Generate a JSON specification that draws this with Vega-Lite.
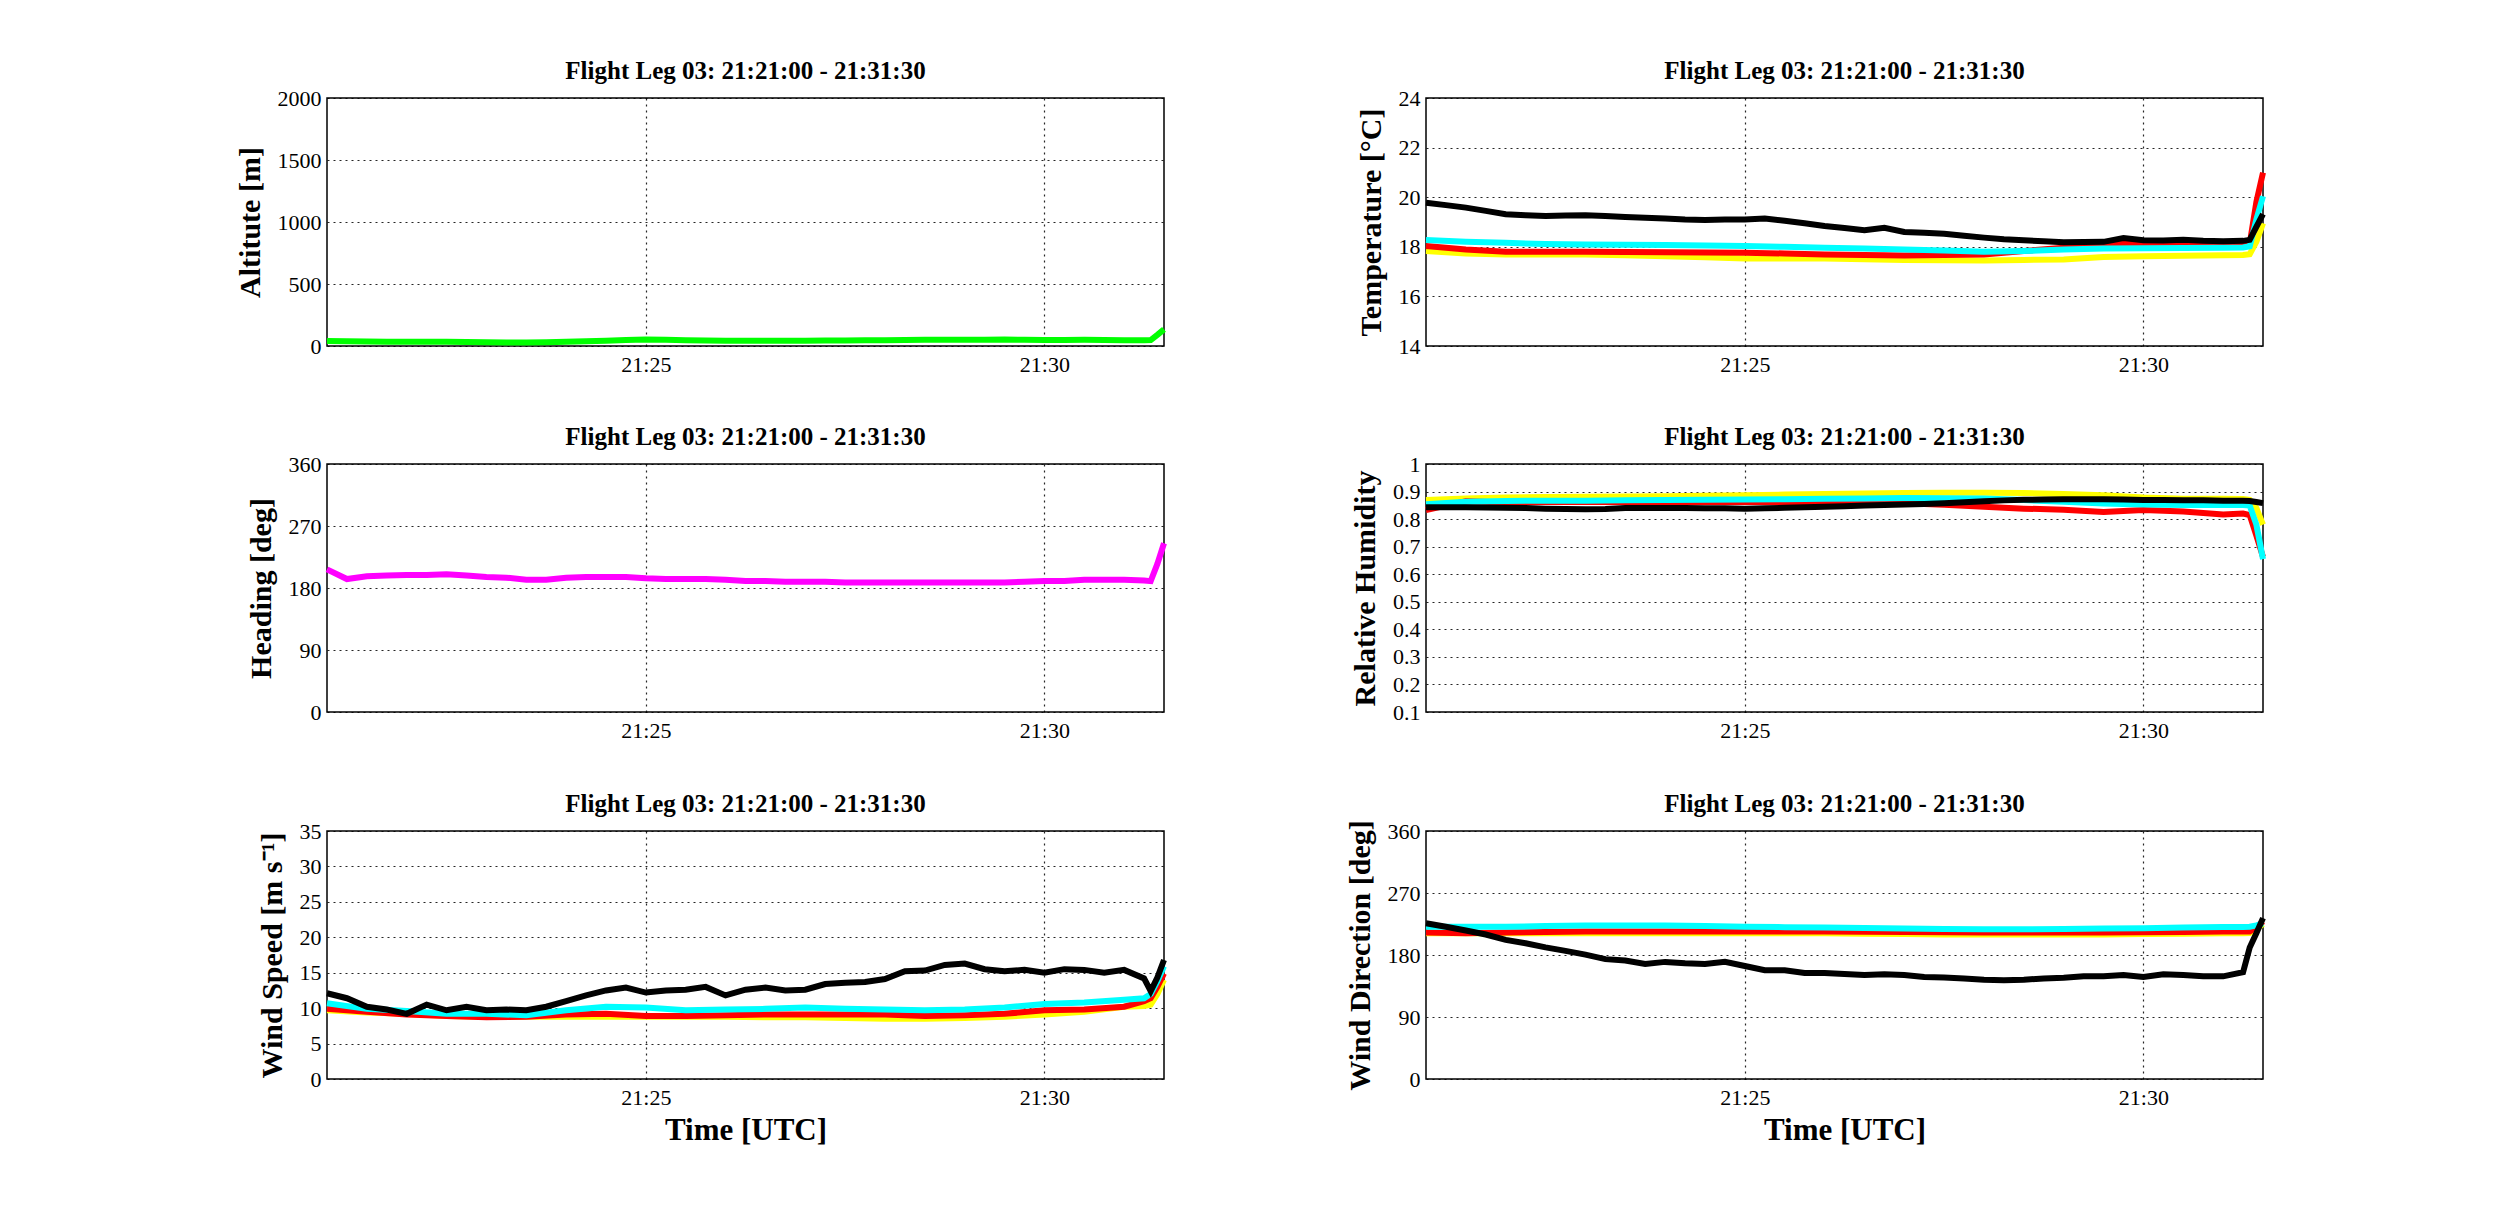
{
  "$schema": "https://vega.github.io/schema/vega-lite/v6.json",
  "background": "white",
  "padding": {"left": 234, "top": 58, "right": 10, "bottom": 10},
  "columns": 2,
  "spacing": {"row": 48, "column": 167},
  "align": {"row": "each", "column": "all"},
  "datasets": {
    "alt": [
      {"t": "21:21:00", "v": 40}, {"t": "21:21:15", "v": 38}, {"t": "21:21:30", "v": 36}, {"t": "21:21:45", "v": 35},
      {"t": "21:22:00", "v": 35}, {"t": "21:22:15", "v": 34}, {"t": "21:22:30", "v": 35}, {"t": "21:22:45", "v": 33},
      {"t": "21:23:00", "v": 30}, {"t": "21:23:15", "v": 28}, {"t": "21:23:30", "v": 28}, {"t": "21:23:45", "v": 30},
      {"t": "21:24:00", "v": 35}, {"t": "21:24:15", "v": 38}, {"t": "21:24:30", "v": 42}, {"t": "21:24:45", "v": 48},
      {"t": "21:25:00", "v": 52}, {"t": "21:25:15", "v": 50}, {"t": "21:25:30", "v": 46}, {"t": "21:25:45", "v": 44},
      {"t": "21:26:00", "v": 42}, {"t": "21:26:15", "v": 42}, {"t": "21:26:30", "v": 42}, {"t": "21:26:45", "v": 42},
      {"t": "21:27:00", "v": 43}, {"t": "21:27:15", "v": 44}, {"t": "21:27:30", "v": 45}, {"t": "21:27:45", "v": 46},
      {"t": "21:28:00", "v": 47}, {"t": "21:28:15", "v": 48}, {"t": "21:28:30", "v": 50}, {"t": "21:28:45", "v": 50},
      {"t": "21:29:00", "v": 50}, {"t": "21:29:15", "v": 50}, {"t": "21:29:30", "v": 52}, {"t": "21:29:45", "v": 50},
      {"t": "21:30:00", "v": 48}, {"t": "21:30:15", "v": 49}, {"t": "21:30:30", "v": 50}, {"t": "21:30:45", "v": 48},
      {"t": "21:31:00", "v": 47}, {"t": "21:31:15", "v": 46}, {"t": "21:31:20", "v": 48}, {"t": "21:31:25", "v": 90},
      {"t": "21:31:30", "v": 134}
    ],
    "hdg": [
      {"t": "21:21:00", "v": 207}, {"t": "21:21:15", "v": 193}, {"t": "21:21:30", "v": 197}, {"t": "21:21:45", "v": 198},
      {"t": "21:22:00", "v": 199}, {"t": "21:22:15", "v": 199}, {"t": "21:22:30", "v": 200}, {"t": "21:22:45", "v": 198},
      {"t": "21:23:00", "v": 196}, {"t": "21:23:15", "v": 195}, {"t": "21:23:30", "v": 192}, {"t": "21:23:45", "v": 192},
      {"t": "21:24:00", "v": 195}, {"t": "21:24:15", "v": 196}, {"t": "21:24:30", "v": 196}, {"t": "21:24:45", "v": 196},
      {"t": "21:25:00", "v": 194}, {"t": "21:25:15", "v": 193}, {"t": "21:25:30", "v": 193}, {"t": "21:25:45", "v": 193},
      {"t": "21:26:00", "v": 192}, {"t": "21:26:15", "v": 190}, {"t": "21:26:30", "v": 190}, {"t": "21:26:45", "v": 189},
      {"t": "21:27:00", "v": 189}, {"t": "21:27:15", "v": 189}, {"t": "21:27:30", "v": 188}, {"t": "21:27:45", "v": 188},
      {"t": "21:28:00", "v": 188}, {"t": "21:28:15", "v": 188}, {"t": "21:28:30", "v": 188}, {"t": "21:28:45", "v": 188},
      {"t": "21:29:00", "v": 188}, {"t": "21:29:15", "v": 188}, {"t": "21:29:30", "v": 188}, {"t": "21:29:45", "v": 189},
      {"t": "21:30:00", "v": 190}, {"t": "21:30:15", "v": 190}, {"t": "21:30:30", "v": 192}, {"t": "21:30:45", "v": 192},
      {"t": "21:31:00", "v": 192}, {"t": "21:31:15", "v": 191}, {"t": "21:31:20", "v": 190}, {"t": "21:31:25", "v": 215},
      {"t": "21:31:30", "v": 245}
    ],
    "temp": [
      {"t": "21:21:00", "s": "S1", "v": 17.83}, {"t": "21:21:30", "s": "S1", "v": 17.73}, {"t": "21:22:00", "s": "S1", "v": 17.69},
      {"t": "21:22:30", "s": "S1", "v": 17.69}, {"t": "21:23:00", "s": "S1", "v": 17.69}, {"t": "21:23:30", "s": "S1", "v": 17.66},
      {"t": "21:24:00", "s": "S1", "v": 17.62}, {"t": "21:24:30", "s": "S1", "v": 17.58}, {"t": "21:25:00", "s": "S1", "v": 17.53},
      {"t": "21:25:30", "s": "S1", "v": 17.53}, {"t": "21:26:00", "s": "S1", "v": 17.53}, {"t": "21:26:30", "s": "S1", "v": 17.5},
      {"t": "21:27:00", "s": "S1", "v": 17.47}, {"t": "21:27:30", "s": "S1", "v": 17.46}, {"t": "21:28:00", "s": "S1", "v": 17.45},
      {"t": "21:28:30", "s": "S1", "v": 17.47}, {"t": "21:29:00", "s": "S1", "v": 17.49}, {"t": "21:29:30", "s": "S1", "v": 17.59},
      {"t": "21:30:00", "s": "S1", "v": 17.62}, {"t": "21:30:30", "s": "S1", "v": 17.64}, {"t": "21:31:00", "s": "S1", "v": 17.66},
      {"t": "21:31:15", "s": "S1", "v": 17.67}, {"t": "21:31:20", "s": "S1", "v": 17.7}, {"t": "21:31:25", "s": "S1", "v": 18.2},
      {"t": "21:31:30", "s": "S1", "v": 18.95},
      {"t": "21:21:00", "s": "S2", "v": 18.03}, {"t": "21:21:30", "s": "S2", "v": 17.89}, {"t": "21:22:00", "s": "S2", "v": 17.8},
      {"t": "21:22:30", "s": "S2", "v": 17.8}, {"t": "21:23:00", "s": "S2", "v": 17.8}, {"t": "21:23:30", "s": "S2", "v": 17.79},
      {"t": "21:24:00", "s": "S2", "v": 17.78}, {"t": "21:24:30", "s": "S2", "v": 17.77}, {"t": "21:25:00", "s": "S2", "v": 17.76},
      {"t": "21:25:30", "s": "S2", "v": 17.73}, {"t": "21:26:00", "s": "S2", "v": 17.69}, {"t": "21:26:30", "s": "S2", "v": 17.67},
      {"t": "21:27:00", "s": "S2", "v": 17.65}, {"t": "21:27:30", "s": "S2", "v": 17.67}, {"t": "21:28:00", "s": "S2", "v": 17.69},
      {"t": "21:28:30", "s": "S2", "v": 17.83}, {"t": "21:29:00", "s": "S2", "v": 17.96}, {"t": "21:29:30", "s": "S2", "v": 18.09},
      {"t": "21:30:00", "s": "S2", "v": 18.13}, {"t": "21:30:30", "s": "S2", "v": 18.09}, {"t": "21:31:00", "s": "S2", "v": 18.09},
      {"t": "21:31:15", "s": "S2", "v": 18.08}, {"t": "21:31:20", "s": "S2", "v": 18.12}, {"t": "21:31:25", "s": "S2", "v": 19.8},
      {"t": "21:31:30", "s": "S2", "v": 20.99},
      {"t": "21:21:00", "s": "S3", "v": 18.27}, {"t": "21:21:30", "s": "S3", "v": 18.2}, {"t": "21:22:00", "s": "S3", "v": 18.16},
      {"t": "21:22:30", "s": "S3", "v": 18.11}, {"t": "21:23:00", "s": "S3", "v": 18.09}, {"t": "21:23:30", "s": "S3", "v": 18.08},
      {"t": "21:24:00", "s": "S3", "v": 18.07}, {"t": "21:24:30", "s": "S3", "v": 18.05}, {"t": "21:25:00", "s": "S3", "v": 18.03},
      {"t": "21:25:30", "s": "S3", "v": 18.0}, {"t": "21:26:00", "s": "S3", "v": 17.96}, {"t": "21:26:30", "s": "S3", "v": 17.93},
      {"t": "21:27:00", "s": "S3", "v": 17.89}, {"t": "21:27:30", "s": "S3", "v": 17.85}, {"t": "21:28:00", "s": "S3", "v": 17.8},
      {"t": "21:28:30", "s": "S3", "v": 17.83}, {"t": "21:29:00", "s": "S3", "v": 17.89}, {"t": "21:29:30", "s": "S3", "v": 17.93},
      {"t": "21:30:00", "s": "S3", "v": 17.94}, {"t": "21:30:30", "s": "S3", "v": 17.95}, {"t": "21:31:00", "s": "S3", "v": 17.96},
      {"t": "21:31:15", "s": "S3", "v": 17.97}, {"t": "21:31:20", "s": "S3", "v": 18.02}, {"t": "21:31:25", "s": "S3", "v": 19.1},
      {"t": "21:31:30", "s": "S3", "v": 20.04},
      {"t": "21:21:00", "s": "S4", "v": 19.78}, {"t": "21:21:15", "s": "S4", "v": 19.68}, {"t": "21:21:30", "s": "S4", "v": 19.58},
      {"t": "21:21:45", "s": "S4", "v": 19.45}, {"t": "21:22:00", "s": "S4", "v": 19.31}, {"t": "21:22:15", "s": "S4", "v": 19.27},
      {"t": "21:22:30", "s": "S4", "v": 19.24}, {"t": "21:22:45", "s": "S4", "v": 19.26}, {"t": "21:23:00", "s": "S4", "v": 19.27},
      {"t": "21:23:15", "s": "S4", "v": 19.24}, {"t": "21:23:30", "s": "S4", "v": 19.2}, {"t": "21:23:45", "s": "S4", "v": 19.17},
      {"t": "21:24:00", "s": "S4", "v": 19.14}, {"t": "21:24:15", "s": "S4", "v": 19.1}, {"t": "21:24:30", "s": "S4", "v": 19.08},
      {"t": "21:24:45", "s": "S4", "v": 19.1}, {"t": "21:25:00", "s": "S4", "v": 19.1}, {"t": "21:25:15", "s": "S4", "v": 19.14},
      {"t": "21:25:30", "s": "S4", "v": 19.05}, {"t": "21:25:45", "s": "S4", "v": 18.95}, {"t": "21:26:00", "s": "S4", "v": 18.84},
      {"t": "21:26:15", "s": "S4", "v": 18.76}, {"t": "21:26:30", "s": "S4", "v": 18.67}, {"t": "21:26:45", "s": "S4", "v": 18.77},
      {"t": "21:27:00", "s": "S4", "v": 18.6}, {"t": "21:27:15", "s": "S4", "v": 18.57}, {"t": "21:27:30", "s": "S4", "v": 18.53},
      {"t": "21:27:45", "s": "S4", "v": 18.45}, {"t": "21:28:00", "s": "S4", "v": 18.37}, {"t": "21:28:15", "s": "S4", "v": 18.3},
      {"t": "21:28:30", "s": "S4", "v": 18.26}, {"t": "21:28:45", "s": "S4", "v": 18.22}, {"t": "21:29:00", "s": "S4", "v": 18.18},
      {"t": "21:29:15", "s": "S4", "v": 18.19}, {"t": "21:29:30", "s": "S4", "v": 18.2}, {"t": "21:29:45", "s": "S4", "v": 18.35},
      {"t": "21:30:00", "s": "S4", "v": 18.26}, {"t": "21:30:15", "s": "S4", "v": 18.25}, {"t": "21:30:30", "s": "S4", "v": 18.28},
      {"t": "21:30:45", "s": "S4", "v": 18.24}, {"t": "21:31:00", "s": "S4", "v": 18.22}, {"t": "21:31:15", "s": "S4", "v": 18.24},
      {"t": "21:31:20", "s": "S4", "v": 18.28}, {"t": "21:31:25", "s": "S4", "v": 18.8}, {"t": "21:31:30", "s": "S4", "v": 19.32}
    ],
    "rh": [
      {"t": "21:21:00", "s": "S1", "v": 0.869}, {"t": "21:21:30", "s": "S1", "v": 0.875}, {"t": "21:22:00", "s": "S1", "v": 0.878},
      {"t": "21:22:30", "s": "S1", "v": 0.88}, {"t": "21:23:00", "s": "S1", "v": 0.881}, {"t": "21:23:30", "s": "S1", "v": 0.882},
      {"t": "21:24:00", "s": "S1", "v": 0.883}, {"t": "21:24:30", "s": "S1", "v": 0.885}, {"t": "21:25:00", "s": "S1", "v": 0.887},
      {"t": "21:25:30", "s": "S1", "v": 0.889}, {"t": "21:26:00", "s": "S1", "v": 0.891}, {"t": "21:26:30", "s": "S1", "v": 0.893},
      {"t": "21:27:00", "s": "S1", "v": 0.895}, {"t": "21:27:30", "s": "S1", "v": 0.896}, {"t": "21:28:00", "s": "S1", "v": 0.896},
      {"t": "21:28:30", "s": "S1", "v": 0.895}, {"t": "21:29:00", "s": "S1", "v": 0.891}, {"t": "21:29:30", "s": "S1", "v": 0.887},
      {"t": "21:30:00", "s": "S1", "v": 0.878}, {"t": "21:30:30", "s": "S1", "v": 0.874}, {"t": "21:31:00", "s": "S1", "v": 0.874},
      {"t": "21:31:15", "s": "S1", "v": 0.873}, {"t": "21:31:20", "s": "S1", "v": 0.87}, {"t": "21:31:25", "s": "S1", "v": 0.84},
      {"t": "21:31:30", "s": "S1", "v": 0.78},
      {"t": "21:21:00", "s": "S2", "v": 0.833}, {"t": "21:21:30", "s": "S2", "v": 0.865}, {"t": "21:22:00", "s": "S2", "v": 0.86},
      {"t": "21:22:30", "s": "S2", "v": 0.862}, {"t": "21:23:00", "s": "S2", "v": 0.862}, {"t": "21:23:30", "s": "S2", "v": 0.862},
      {"t": "21:24:00", "s": "S2", "v": 0.862}, {"t": "21:24:30", "s": "S2", "v": 0.862}, {"t": "21:25:00", "s": "S2", "v": 0.862},
      {"t": "21:25:30", "s": "S2", "v": 0.862}, {"t": "21:26:00", "s": "S2", "v": 0.862}, {"t": "21:26:30", "s": "S2", "v": 0.862},
      {"t": "21:27:00", "s": "S2", "v": 0.858}, {"t": "21:27:30", "s": "S2", "v": 0.852}, {"t": "21:28:00", "s": "S2", "v": 0.845},
      {"t": "21:28:30", "s": "S2", "v": 0.838}, {"t": "21:29:00", "s": "S2", "v": 0.834}, {"t": "21:29:30", "s": "S2", "v": 0.826},
      {"t": "21:30:00", "s": "S2", "v": 0.833}, {"t": "21:30:30", "s": "S2", "v": 0.828}, {"t": "21:31:00", "s": "S2", "v": 0.817},
      {"t": "21:31:15", "s": "S2", "v": 0.82}, {"t": "21:31:20", "s": "S2", "v": 0.815}, {"t": "21:31:25", "s": "S2", "v": 0.74},
      {"t": "21:31:30", "s": "S2", "v": 0.663},
      {"t": "21:21:00", "s": "S3", "v": 0.854}, {"t": "21:21:30", "s": "S3", "v": 0.863}, {"t": "21:22:00", "s": "S3", "v": 0.866},
      {"t": "21:22:30", "s": "S3", "v": 0.867}, {"t": "21:23:00", "s": "S3", "v": 0.867}, {"t": "21:23:30", "s": "S3", "v": 0.868},
      {"t": "21:24:00", "s": "S3", "v": 0.869}, {"t": "21:24:30", "s": "S3", "v": 0.87}, {"t": "21:25:00", "s": "S3", "v": 0.871},
      {"t": "21:25:30", "s": "S3", "v": 0.872}, {"t": "21:26:00", "s": "S3", "v": 0.874}, {"t": "21:26:30", "s": "S3", "v": 0.875},
      {"t": "21:27:00", "s": "S3", "v": 0.877}, {"t": "21:27:30", "s": "S3", "v": 0.876}, {"t": "21:28:00", "s": "S3", "v": 0.875},
      {"t": "21:28:30", "s": "S3", "v": 0.869}, {"t": "21:29:00", "s": "S3", "v": 0.863}, {"t": "21:29:30", "s": "S3", "v": 0.857},
      {"t": "21:30:00", "s": "S3", "v": 0.853}, {"t": "21:30:30", "s": "S3", "v": 0.851}, {"t": "21:31:00", "s": "S3", "v": 0.851},
      {"t": "21:31:15", "s": "S3", "v": 0.851}, {"t": "21:31:20", "s": "S3", "v": 0.849}, {"t": "21:31:25", "s": "S3", "v": 0.78},
      {"t": "21:31:30", "s": "S3", "v": 0.655},
      {"t": "21:21:00", "s": "S4", "v": 0.843}, {"t": "21:21:15", "s": "S4", "v": 0.843}, {"t": "21:21:30", "s": "S4", "v": 0.843},
      {"t": "21:21:45", "s": "S4", "v": 0.842}, {"t": "21:22:00", "s": "S4", "v": 0.841}, {"t": "21:22:15", "s": "S4", "v": 0.84},
      {"t": "21:22:30", "s": "S4", "v": 0.838}, {"t": "21:22:45", "s": "S4", "v": 0.837}, {"t": "21:23:00", "s": "S4", "v": 0.836},
      {"t": "21:23:15", "s": "S4", "v": 0.837}, {"t": "21:23:30", "s": "S4", "v": 0.84}, {"t": "21:23:45", "s": "S4", "v": 0.84},
      {"t": "21:24:00", "s": "S4", "v": 0.84}, {"t": "21:24:15", "s": "S4", "v": 0.84}, {"t": "21:24:30", "s": "S4", "v": 0.839},
      {"t": "21:24:45", "s": "S4", "v": 0.839}, {"t": "21:25:00", "s": "S4", "v": 0.838}, {"t": "21:25:15", "s": "S4", "v": 0.839},
      {"t": "21:25:30", "s": "S4", "v": 0.841}, {"t": "21:25:45", "s": "S4", "v": 0.843}, {"t": "21:26:00", "s": "S4", "v": 0.845},
      {"t": "21:26:15", "s": "S4", "v": 0.847}, {"t": "21:26:30", "s": "S4", "v": 0.849}, {"t": "21:26:45", "s": "S4", "v": 0.851},
      {"t": "21:27:00", "s": "S4", "v": 0.853}, {"t": "21:27:15", "s": "S4", "v": 0.855}, {"t": "21:27:30", "s": "S4", "v": 0.858},
      {"t": "21:27:45", "s": "S4", "v": 0.861}, {"t": "21:28:00", "s": "S4", "v": 0.865}, {"t": "21:28:15", "s": "S4", "v": 0.868},
      {"t": "21:28:30", "s": "S4", "v": 0.87}, {"t": "21:28:45", "s": "S4", "v": 0.871}, {"t": "21:29:00", "s": "S4", "v": 0.872},
      {"t": "21:29:15", "s": "S4", "v": 0.872}, {"t": "21:29:30", "s": "S4", "v": 0.872}, {"t": "21:29:45", "s": "S4", "v": 0.871},
      {"t": "21:30:00", "s": "S4", "v": 0.869}, {"t": "21:30:15", "s": "S4", "v": 0.869}, {"t": "21:30:30", "s": "S4", "v": 0.868},
      {"t": "21:30:45", "s": "S4", "v": 0.868}, {"t": "21:31:00", "s": "S4", "v": 0.867}, {"t": "21:31:15", "s": "S4", "v": 0.867},
      {"t": "21:31:20", "s": "S4", "v": 0.866}, {"t": "21:31:25", "s": "S4", "v": 0.862}, {"t": "21:31:30", "s": "S4", "v": 0.858}
    ],
    "ws": [
      {"t": "21:21:00", "s": "S1", "v": 9.7}, {"t": "21:21:30", "s": "S1", "v": 9.4}, {"t": "21:22:00", "s": "S1", "v": 9.2},
      {"t": "21:22:30", "s": "S1", "v": 8.9}, {"t": "21:23:00", "s": "S1", "v": 8.8}, {"t": "21:23:30", "s": "S1", "v": 8.8},
      {"t": "21:24:00", "s": "S1", "v": 8.8}, {"t": "21:24:30", "s": "S1", "v": 8.8}, {"t": "21:25:00", "s": "S1", "v": 8.8},
      {"t": "21:25:30", "s": "S1", "v": 8.8}, {"t": "21:26:00", "s": "S1", "v": 8.8}, {"t": "21:26:30", "s": "S1", "v": 8.7},
      {"t": "21:27:00", "s": "S1", "v": 8.7}, {"t": "21:27:30", "s": "S1", "v": 8.6}, {"t": "21:28:00", "s": "S1", "v": 8.5},
      {"t": "21:28:30", "s": "S1", "v": 8.5}, {"t": "21:29:00", "s": "S1", "v": 8.6}, {"t": "21:29:30", "s": "S1", "v": 8.8},
      {"t": "21:30:00", "s": "S1", "v": 9.1}, {"t": "21:30:30", "s": "S1", "v": 9.5}, {"t": "21:31:00", "s": "S1", "v": 10.2},
      {"t": "21:31:15", "s": "S1", "v": 10.3}, {"t": "21:31:20", "s": "S1", "v": 10.5}, {"t": "21:31:25", "s": "S1", "v": 12.0},
      {"t": "21:31:30", "s": "S1", "v": 14.0},
      {"t": "21:21:00", "s": "S2", "v": 9.9}, {"t": "21:21:30", "s": "S2", "v": 9.5}, {"t": "21:22:00", "s": "S2", "v": 9.1},
      {"t": "21:22:30", "s": "S2", "v": 8.9}, {"t": "21:23:00", "s": "S2", "v": 8.7}, {"t": "21:23:30", "s": "S2", "v": 8.8},
      {"t": "21:24:00", "s": "S2", "v": 9.1}, {"t": "21:24:30", "s": "S2", "v": 9.2}, {"t": "21:25:00", "s": "S2", "v": 8.9},
      {"t": "21:25:30", "s": "S2", "v": 8.9}, {"t": "21:26:00", "s": "S2", "v": 9.0}, {"t": "21:26:30", "s": "S2", "v": 9.1},
      {"t": "21:27:00", "s": "S2", "v": 9.1}, {"t": "21:27:30", "s": "S2", "v": 9.1}, {"t": "21:28:00", "s": "S2", "v": 9.1},
      {"t": "21:28:30", "s": "S2", "v": 8.9}, {"t": "21:29:00", "s": "S2", "v": 9.0}, {"t": "21:29:30", "s": "S2", "v": 9.2},
      {"t": "21:30:00", "s": "S2", "v": 9.7}, {"t": "21:30:30", "s": "S2", "v": 9.8}, {"t": "21:31:00", "s": "S2", "v": 10.2},
      {"t": "21:31:15", "s": "S2", "v": 11.0}, {"t": "21:31:20", "s": "S2", "v": 11.4}, {"t": "21:31:25", "s": "S2", "v": 13.0},
      {"t": "21:31:30", "s": "S2", "v": 14.9},
      {"t": "21:21:00", "s": "S3", "v": 10.7}, {"t": "21:21:30", "s": "S3", "v": 9.9}, {"t": "21:22:00", "s": "S3", "v": 9.6},
      {"t": "21:22:30", "s": "S3", "v": 9.2}, {"t": "21:23:00", "s": "S3", "v": 9.2}, {"t": "21:23:30", "s": "S3", "v": 9.0},
      {"t": "21:24:00", "s": "S3", "v": 9.7}, {"t": "21:24:30", "s": "S3", "v": 10.2}, {"t": "21:25:00", "s": "S3", "v": 10.1},
      {"t": "21:25:30", "s": "S3", "v": 9.7}, {"t": "21:26:00", "s": "S3", "v": 9.8}, {"t": "21:26:30", "s": "S3", "v": 9.9},
      {"t": "21:27:00", "s": "S3", "v": 10.1}, {"t": "21:27:30", "s": "S3", "v": 9.9}, {"t": "21:28:00", "s": "S3", "v": 9.8},
      {"t": "21:28:30", "s": "S3", "v": 9.7}, {"t": "21:29:00", "s": "S3", "v": 9.8}, {"t": "21:29:30", "s": "S3", "v": 10.1},
      {"t": "21:30:00", "s": "S3", "v": 10.6}, {"t": "21:30:30", "s": "S3", "v": 10.8}, {"t": "21:31:00", "s": "S3", "v": 11.2},
      {"t": "21:31:15", "s": "S3", "v": 11.4}, {"t": "21:31:20", "s": "S3", "v": 12.0}, {"t": "21:31:25", "s": "S3", "v": 13.8},
      {"t": "21:31:30", "s": "S3", "v": 15.9},
      {"t": "21:21:00", "s": "S4", "v": 12.1}, {"t": "21:21:15", "s": "S4", "v": 11.4}, {"t": "21:21:30", "s": "S4", "v": 10.2},
      {"t": "21:21:45", "s": "S4", "v": 9.8}, {"t": "21:22:00", "s": "S4", "v": 9.2}, {"t": "21:22:15", "s": "S4", "v": 10.5},
      {"t": "21:22:30", "s": "S4", "v": 9.7}, {"t": "21:22:45", "s": "S4", "v": 10.2}, {"t": "21:23:00", "s": "S4", "v": 9.7},
      {"t": "21:23:15", "s": "S4", "v": 9.8}, {"t": "21:23:30", "s": "S4", "v": 9.7}, {"t": "21:23:45", "s": "S4", "v": 10.2},
      {"t": "21:24:00", "s": "S4", "v": 11.0}, {"t": "21:24:15", "s": "S4", "v": 11.8}, {"t": "21:24:30", "s": "S4", "v": 12.5},
      {"t": "21:24:45", "s": "S4", "v": 12.9}, {"t": "21:25:00", "s": "S4", "v": 12.2}, {"t": "21:25:15", "s": "S4", "v": 12.5},
      {"t": "21:25:30", "s": "S4", "v": 12.6}, {"t": "21:25:45", "s": "S4", "v": 13.0}, {"t": "21:26:00", "s": "S4", "v": 11.8},
      {"t": "21:26:15", "s": "S4", "v": 12.6}, {"t": "21:26:30", "s": "S4", "v": 12.9}, {"t": "21:26:45", "s": "S4", "v": 12.5},
      {"t": "21:27:00", "s": "S4", "v": 12.6}, {"t": "21:27:15", "s": "S4", "v": 13.4}, {"t": "21:27:30", "s": "S4", "v": 13.6},
      {"t": "21:27:45", "s": "S4", "v": 13.7}, {"t": "21:28:00", "s": "S4", "v": 14.1}, {"t": "21:28:15", "s": "S4", "v": 15.2},
      {"t": "21:28:30", "s": "S4", "v": 15.3}, {"t": "21:28:45", "s": "S4", "v": 16.1}, {"t": "21:29:00", "s": "S4", "v": 16.3},
      {"t": "21:29:15", "s": "S4", "v": 15.5}, {"t": "21:29:30", "s": "S4", "v": 15.2}, {"t": "21:29:45", "s": "S4", "v": 15.4},
      {"t": "21:30:00", "s": "S4", "v": 15.0}, {"t": "21:30:15", "s": "S4", "v": 15.5}, {"t": "21:30:30", "s": "S4", "v": 15.4},
      {"t": "21:30:45", "s": "S4", "v": 15.0}, {"t": "21:31:00", "s": "S4", "v": 15.4}, {"t": "21:31:15", "s": "S4", "v": 14.2},
      {"t": "21:31:20", "s": "S4", "v": 12.4}, {"t": "21:31:25", "s": "S4", "v": 14.3}, {"t": "21:31:30", "s": "S4", "v": 16.8}
    ],
    "wd": [
      {"t": "21:21:00", "s": "S1", "v": 211.5}, {"t": "21:21:30", "s": "S1", "v": 211.5}, {"t": "21:22:00", "s": "S1", "v": 211.5},
      {"t": "21:22:30", "s": "S1", "v": 211.5}, {"t": "21:23:00", "s": "S1", "v": 211.5}, {"t": "21:23:30", "s": "S1", "v": 211.5},
      {"t": "21:24:00", "s": "S1", "v": 211.5}, {"t": "21:24:30", "s": "S1", "v": 211.5}, {"t": "21:25:00", "s": "S1", "v": 211.5},
      {"t": "21:25:30", "s": "S1", "v": 211.5}, {"t": "21:26:00", "s": "S1", "v": 211.5}, {"t": "21:26:30", "s": "S1", "v": 211},
      {"t": "21:27:00", "s": "S1", "v": 210.5}, {"t": "21:27:30", "s": "S1", "v": 209.7}, {"t": "21:28:00", "s": "S1", "v": 209.7},
      {"t": "21:28:30", "s": "S1", "v": 209.7}, {"t": "21:29:00", "s": "S1", "v": 209.7}, {"t": "21:29:30", "s": "S1", "v": 209.7},
      {"t": "21:30:00", "s": "S1", "v": 210.5}, {"t": "21:30:30", "s": "S1", "v": 211}, {"t": "21:31:00", "s": "S1", "v": 211.5},
      {"t": "21:31:15", "s": "S1", "v": 211.5}, {"t": "21:31:20", "s": "S1", "v": 212}, {"t": "21:31:25", "s": "S1", "v": 218},
      {"t": "21:31:30", "s": "S1", "v": 225},
      {"t": "21:21:00", "s": "S2", "v": 212.5}, {"t": "21:21:30", "s": "S2", "v": 211.6}, {"t": "21:22:00", "s": "S2", "v": 212.5},
      {"t": "21:22:30", "s": "S2", "v": 213.5}, {"t": "21:23:00", "s": "S2", "v": 214}, {"t": "21:23:30", "s": "S2", "v": 214},
      {"t": "21:24:00", "s": "S2", "v": 214}, {"t": "21:24:30", "s": "S2", "v": 214}, {"t": "21:25:00", "s": "S2", "v": 214},
      {"t": "21:25:30", "s": "S2", "v": 214}, {"t": "21:26:00", "s": "S2", "v": 214}, {"t": "21:26:30", "s": "S2", "v": 213.8},
      {"t": "21:27:00", "s": "S2", "v": 213.5}, {"t": "21:27:30", "s": "S2", "v": 213}, {"t": "21:28:00", "s": "S2", "v": 212.5},
      {"t": "21:28:30", "s": "S2", "v": 212.5}, {"t": "21:29:00", "s": "S2", "v": 212.5}, {"t": "21:29:30", "s": "S2", "v": 212.5},
      {"t": "21:30:00", "s": "S2", "v": 213}, {"t": "21:30:30", "s": "S2", "v": 213.5}, {"t": "21:31:00", "s": "S2", "v": 214},
      {"t": "21:31:15", "s": "S2", "v": 214}, {"t": "21:31:20", "s": "S2", "v": 214}, {"t": "21:31:25", "s": "S2", "v": 220},
      {"t": "21:31:30", "s": "S2", "v": 228.6},
      {"t": "21:21:00", "s": "S3", "v": 221}, {"t": "21:21:30", "s": "S3", "v": 221}, {"t": "21:22:00", "s": "S3", "v": 221},
      {"t": "21:22:30", "s": "S3", "v": 222}, {"t": "21:23:00", "s": "S3", "v": 222.8}, {"t": "21:23:30", "s": "S3", "v": 222.8},
      {"t": "21:24:00", "s": "S3", "v": 222.8}, {"t": "21:24:30", "s": "S3", "v": 222}, {"t": "21:25:00", "s": "S3", "v": 221},
      {"t": "21:25:30", "s": "S3", "v": 220.4}, {"t": "21:26:00", "s": "S3", "v": 219.8}, {"t": "21:26:30", "s": "S3", "v": 219.1},
      {"t": "21:27:00", "s": "S3", "v": 218.4}, {"t": "21:27:30", "s": "S3", "v": 217.9}, {"t": "21:28:00", "s": "S3", "v": 217.4},
      {"t": "21:28:30", "s": "S3", "v": 217.5}, {"t": "21:29:00", "s": "S3", "v": 217.7}, {"t": "21:29:30", "s": "S3", "v": 218.3},
      {"t": "21:30:00", "s": "S3", "v": 219}, {"t": "21:30:30", "s": "S3", "v": 219.8}, {"t": "21:31:00", "s": "S3", "v": 220.6},
      {"t": "21:31:15", "s": "S3", "v": 220.8}, {"t": "21:31:20", "s": "S3", "v": 221}, {"t": "21:31:25", "s": "S3", "v": 223},
      {"t": "21:31:30", "s": "S3", "v": 226},
      {"t": "21:21:00", "s": "S4", "v": 226}, {"t": "21:21:15", "s": "S4", "v": 221}, {"t": "21:21:30", "s": "S4", "v": 215.5},
      {"t": "21:21:45", "s": "S4", "v": 209.7}, {"t": "21:22:00", "s": "S4", "v": 202}, {"t": "21:22:15", "s": "S4", "v": 197},
      {"t": "21:22:30", "s": "S4", "v": 191}, {"t": "21:22:45", "s": "S4", "v": 186}, {"t": "21:23:00", "s": "S4", "v": 180.5},
      {"t": "21:23:15", "s": "S4", "v": 174}, {"t": "21:23:30", "s": "S4", "v": 172}, {"t": "21:23:45", "s": "S4", "v": 167},
      {"t": "21:24:00", "s": "S4", "v": 170}, {"t": "21:24:15", "s": "S4", "v": 168}, {"t": "21:24:30", "s": "S4", "v": 167},
      {"t": "21:24:45", "s": "S4", "v": 170}, {"t": "21:25:00", "s": "S4", "v": 164}, {"t": "21:25:15", "s": "S4", "v": 158},
      {"t": "21:25:30", "s": "S4", "v": 158}, {"t": "21:25:45", "s": "S4", "v": 154}, {"t": "21:26:00", "s": "S4", "v": 154},
      {"t": "21:26:15", "s": "S4", "v": 152.5}, {"t": "21:26:30", "s": "S4", "v": 151}, {"t": "21:26:45", "s": "S4", "v": 152},
      {"t": "21:27:00", "s": "S4", "v": 151}, {"t": "21:27:15", "s": "S4", "v": 148}, {"t": "21:27:30", "s": "S4", "v": 147.5},
      {"t": "21:27:45", "s": "S4", "v": 146}, {"t": "21:28:00", "s": "S4", "v": 144}, {"t": "21:28:15", "s": "S4", "v": 143.5},
      {"t": "21:28:30", "s": "S4", "v": 144}, {"t": "21:28:45", "s": "S4", "v": 146}, {"t": "21:29:00", "s": "S4", "v": 147},
      {"t": "21:29:15", "s": "S4", "v": 149}, {"t": "21:29:30", "s": "S4", "v": 149}, {"t": "21:29:45", "s": "S4", "v": 151},
      {"t": "21:30:00", "s": "S4", "v": 148}, {"t": "21:30:15", "s": "S4", "v": 152}, {"t": "21:30:30", "s": "S4", "v": 151},
      {"t": "21:30:45", "s": "S4", "v": 149}, {"t": "21:31:00", "s": "S4", "v": 149}, {"t": "21:31:15", "s": "S4", "v": 155},
      {"t": "21:31:20", "s": "S4", "v": 191}, {"t": "21:31:25", "s": "S4", "v": 211.6}, {"t": "21:31:30", "s": "S4", "v": 233.5}
    ]
  },
  "concat": [
    {
      "title": "Flight Leg 03: 21:21:00 - 21:31:30",
      "width": 837,
      "height": 248,
      "data": {"name": "alt", "format": {"parse": {"t": "utc:'%H:%M:%S'"}}},
      "mark": {"type": "line", "strokeWidth": 6, "color": "#00ff00"},
      "encoding": {
        "x": {
          "field": "t", "type": "temporal",
          "scale": {"type": "utc", "nice": false, "domain": [
            {"year": 1900, "month": 1, "date": 1, "hours": 21, "minutes": 21, "utc": true},
            {"year": 1900, "month": 1, "date": 1, "hours": 21, "minutes": 31, "seconds": 30, "utc": true}]},
          "axis": {"title": null, "labelExpr": "utcFormat(datum.value, '%H:%M')", "values": [
            {"year": 1900, "month": 1, "date": 1, "hours": 21, "minutes": 25, "utc": true},
            {"year": 1900, "month": 1, "date": 1, "hours": 21, "minutes": 30, "utc": true}]}
        },
        "y": {
          "field": "v", "type": "quantitative",
          "scale": {"domain": [0, 2000], "nice": false, "zero": false},
          "axis": {"title": "Altitute [m]", "format": "d", "values": [0, 500, 1000, 1500, 2000]}
        }
      }
    },
    {
      "title": "Flight Leg 03: 21:21:00 - 21:31:30",
      "width": 837,
      "height": 248,
      "data": {"name": "temp", "format": {"parse": {"t": "utc:'%H:%M:%S'"}}},
      "mark": {"type": "line", "strokeWidth": 6},
      "encoding": {
        "x": {
          "field": "t", "type": "temporal",
          "scale": {"type": "utc", "nice": false, "domain": [
            {"year": 1900, "month": 1, "date": 1, "hours": 21, "minutes": 21, "utc": true},
            {"year": 1900, "month": 1, "date": 1, "hours": 21, "minutes": 31, "seconds": 30, "utc": true}]},
          "axis": {"title": null, "labelExpr": "utcFormat(datum.value, '%H:%M')", "values": [
            {"year": 1900, "month": 1, "date": 1, "hours": 21, "minutes": 25, "utc": true},
            {"year": 1900, "month": 1, "date": 1, "hours": 21, "minutes": 30, "utc": true}]}
        },
        "y": {
          "field": "v", "type": "quantitative",
          "scale": {"domain": [14, 24], "nice": false, "zero": false},
          "axis": {"title": "Temperature [°C]", "format": "d", "values": [14, 16, 18, 20, 22, 24]}
        },
        "color": {
          "field": "s", "type": "nominal", "legend": null,
          "scale": {"domain": ["S1", "S2", "S3", "S4"], "range": ["#ffff00", "#ff0000", "#00ffff", "#000000"]}
        }
      }
    },
    {
      "title": "Flight Leg 03: 21:21:00 - 21:31:30",
      "width": 837,
      "height": 248,
      "data": {"name": "hdg", "format": {"parse": {"t": "utc:'%H:%M:%S'"}}},
      "mark": {"type": "line", "strokeWidth": 6, "color": "#ff00ff"},
      "encoding": {
        "x": {
          "field": "t", "type": "temporal",
          "scale": {"type": "utc", "nice": false, "domain": [
            {"year": 1900, "month": 1, "date": 1, "hours": 21, "minutes": 21, "utc": true},
            {"year": 1900, "month": 1, "date": 1, "hours": 21, "minutes": 31, "seconds": 30, "utc": true}]},
          "axis": {"title": null, "labelExpr": "utcFormat(datum.value, '%H:%M')", "values": [
            {"year": 1900, "month": 1, "date": 1, "hours": 21, "minutes": 25, "utc": true},
            {"year": 1900, "month": 1, "date": 1, "hours": 21, "minutes": 30, "utc": true}]}
        },
        "y": {
          "field": "v", "type": "quantitative",
          "scale": {"domain": [0, 360], "nice": false, "zero": false},
          "axis": {"title": "Heading [deg]", "format": "d", "values": [0, 90, 180, 270, 360]}
        }
      }
    },
    {
      "title": "Flight Leg 03: 21:21:00 - 21:31:30",
      "width": 837,
      "height": 248,
      "data": {"name": "rh", "format": {"parse": {"t": "utc:'%H:%M:%S'"}}},
      "mark": {"type": "line", "strokeWidth": 6},
      "encoding": {
        "x": {
          "field": "t", "type": "temporal",
          "scale": {"type": "utc", "nice": false, "domain": [
            {"year": 1900, "month": 1, "date": 1, "hours": 21, "minutes": 21, "utc": true},
            {"year": 1900, "month": 1, "date": 1, "hours": 21, "minutes": 31, "seconds": 30, "utc": true}]},
          "axis": {"title": null, "labelExpr": "utcFormat(datum.value, '%H:%M')", "values": [
            {"year": 1900, "month": 1, "date": 1, "hours": 21, "minutes": 25, "utc": true},
            {"year": 1900, "month": 1, "date": 1, "hours": 21, "minutes": 30, "utc": true}]}
        },
        "y": {
          "field": "v", "type": "quantitative",
          "scale": {"domain": [0.1, 1], "nice": false, "zero": false},
          "axis": {"title": "Relative Humidity", "labelExpr": "datum.value == 1 ? '1' : datum.label", "values": [0.1, 0.2, 0.3, 0.4, 0.5, 0.6, 0.7, 0.8, 0.9, 1]}
        },
        "color": {
          "field": "s", "type": "nominal", "legend": null,
          "scale": {"domain": ["S1", "S2", "S3", "S4"], "range": ["#ffff00", "#ff0000", "#00ffff", "#000000"]}
        }
      }
    },
    {
      "title": "Flight Leg 03: 21:21:00 - 21:31:30",
      "width": 837,
      "height": 248,
      "data": {"name": "ws", "format": {"parse": {"t": "utc:'%H:%M:%S'"}}},
      "mark": {"type": "line", "strokeWidth": 6},
      "encoding": {
        "x": {
          "field": "t", "type": "temporal",
          "scale": {"type": "utc", "nice": false, "domain": [
            {"year": 1900, "month": 1, "date": 1, "hours": 21, "minutes": 21, "utc": true},
            {"year": 1900, "month": 1, "date": 1, "hours": 21, "minutes": 31, "seconds": 30, "utc": true}]},
          "axis": {"title": "Time [UTC]", "labelExpr": "utcFormat(datum.value, '%H:%M')", "values": [
            {"year": 1900, "month": 1, "date": 1, "hours": 21, "minutes": 25, "utc": true},
            {"year": 1900, "month": 1, "date": 1, "hours": 21, "minutes": 30, "utc": true}]}
        },
        "y": {
          "field": "v", "type": "quantitative",
          "scale": {"domain": [0, 35], "nice": false, "zero": false},
          "axis": {"title": "Wind Speed [m s⁻¹]", "format": "d", "values": [0, 5, 10, 15, 20, 25, 30, 35]}
        },
        "color": {
          "field": "s", "type": "nominal", "legend": null,
          "scale": {"domain": ["S1", "S2", "S3", "S4"], "range": ["#ffff00", "#ff0000", "#00ffff", "#000000"]}
        }
      }
    },
    {
      "title": "Flight Leg 03: 21:21:00 - 21:31:30",
      "width": 837,
      "height": 248,
      "data": {"name": "wd", "format": {"parse": {"t": "utc:'%H:%M:%S'"}}},
      "mark": {"type": "line", "strokeWidth": 6},
      "encoding": {
        "x": {
          "field": "t", "type": "temporal",
          "scale": {"type": "utc", "nice": false, "domain": [
            {"year": 1900, "month": 1, "date": 1, "hours": 21, "minutes": 21, "utc": true},
            {"year": 1900, "month": 1, "date": 1, "hours": 21, "minutes": 31, "seconds": 30, "utc": true}]},
          "axis": {"title": "Time [UTC]", "labelExpr": "utcFormat(datum.value, '%H:%M')", "values": [
            {"year": 1900, "month": 1, "date": 1, "hours": 21, "minutes": 25, "utc": true},
            {"year": 1900, "month": 1, "date": 1, "hours": 21, "minutes": 30, "utc": true}]}
        },
        "y": {
          "field": "v", "type": "quantitative",
          "scale": {"domain": [0, 360], "nice": false, "zero": false},
          "axis": {"title": "Wind Direction [deg]", "format": "d", "values": [0, 90, 180, 270, 360]}
        },
        "color": {
          "field": "s", "type": "nominal", "legend": null,
          "scale": {"domain": ["S1", "S2", "S3", "S4"], "range": ["#ffff00", "#ff0000", "#00ffff", "#000000"]}
        }
      }
    }
  ],
  "config": {
    "font": "Liberation Serif",
    "view": {"stroke": "#000000", "strokeWidth": 1.5},
    "axis": {
      "labelFont": "Liberation Serif", "labelFontSize": 22, "labelColor": "#000000",
      "titleFont": "Liberation Serif", "titleFontSize": 30, "titleFontWeight": "bold", "titleColor": "#000000",
      "ticks": false, "domain": false, "grid": true,
      "gridColor": "#000000", "gridDash": [2, 4], "gridWidth": 1.2, "gridOpacity": 0.85,
      "labelPadding": 6, "labelOverlap": false, "labelFlush": false
    },
    "axisX": {"labelPadding": 8, "titlePadding": 7, "titleFontSize": 31},
    "axisY": {"titlePadding": 12},
    "title": {
      "font": "Liberation Serif", "fontSize": 25, "fontWeight": "bold", "color": "#000000",
      "offset": 3, "frame": "group", "anchor": "middle"
    }
  }
}
